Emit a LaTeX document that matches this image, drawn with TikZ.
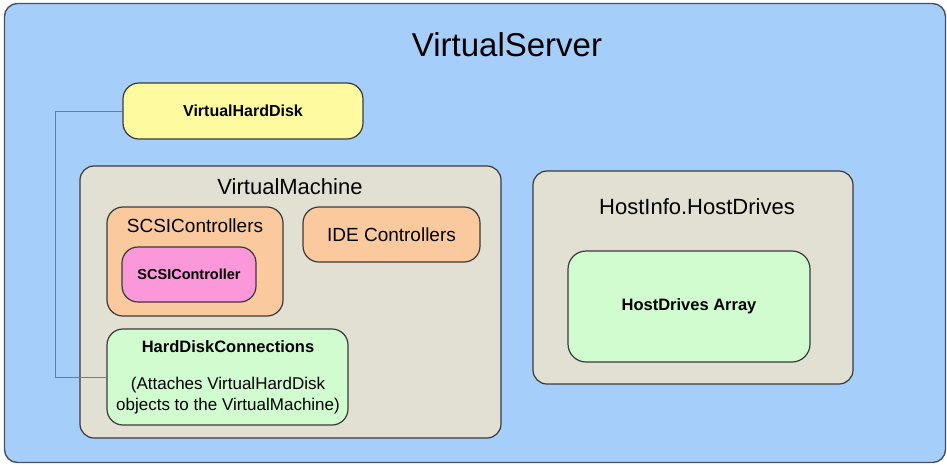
\documentclass[tikz,border=0pt]{standalone}
\usepackage{fontspec}
\setmainfont{Liberation Sans}
\definecolor{serverblue}{HTML}{A6CEFA}
\definecolor{panelgray}{HTML}{E1E0D2}
\definecolor{diskyellow}{HTML}{FDFAA0}
\definecolor{ctrlorange}{HTML}{FACA9E}
\definecolor{ctrlpink}{HTML}{FA98DA}
\definecolor{connGreen}{HTML}{D0FCD0}
\definecolor{edge}{HTML}{3A3A3A}
\definecolor{frameedge}{HTML}{465264}
\definecolor{wire}{HTML}{6A7E96}
\tikzset{
  box/.style={draw=edge, line width=1.2pt, rounded corners=#1, inner sep=0pt},
  box/.default=14pt,
  ttl/.style={inner sep=0pt, font=\fontsize{22}{26}\selectfont},
  sub/.style={inner sep=0pt, font=\fontsize{19}{22}\selectfont},
  bld/.style={inner sep=0pt, font=\bfseries\fontsize{16.5}{20}\selectfont},
  txt/.style={inner sep=0pt, align=center, font=\fontsize{17}{21}\selectfont},
}
\begin{document}
\begin{tikzpicture}[x=1pt, y=-1pt]
\useasboundingbox (0,0) rectangle (947,464);
% outer server frame
\node[box=13pt, fill=serverblue, draw=frameedge, line width=1.4pt, minimum width=941pt, minimum height=459pt] (server) at (475,233) {};
\node[inner sep=0pt, font=\fontsize{33}{38}\selectfont] (servertitle) at (507,45) {VirtualServer};
% virtual hard disk
\node[box=16pt, fill=diskyellow, minimum width=240pt, minimum height=56pt, font=\bfseries\fontsize{16}{20}\selectfont] (vhd) at (243,111) {VirtualHardDisk};
% virtual machine
\node[box, fill=panelgray, minimum width=421pt, minimum height=272pt] (vm) at (290.5,302) {};
\node[ttl] (vmtitle) at (290,187) {VirtualMachine};
\node[box=16pt, fill=ctrlorange, minimum width=176pt, minimum height=109pt] (scsis) at (195,261.5) {};
\node[sub] (scsistitle) at (195,226) {SCSIControllers};
\node[box=16pt, fill=ctrlpink, minimum width=134pt, minimum height=55pt, font=\bfseries\fontsize{14.5}{18}\selectfont] (scsi) at (189,274.5) {SCSIController};
\node[box=16pt, fill=ctrlorange, minimum width=177pt, minimum height=55pt, font=\fontsize{19}{22}\selectfont] (ide) at (391.5,234.5) {IDE Controllers};
\node[box=16pt, fill=connGreen, minimum width=241pt, minimum height=96pt] (hdc) at (227.5,377) {};
\node[bld] (hdctitle) at (228,347) {HardDiskConnections};
\node[txt] (hdctext) at (228,396) {(Attaches VirtualHardDisk\\objects to the VirtualMachine)};
% host drives
\node[box, fill=panelgray, minimum width=320pt, minimum height=213pt] (host) at (693,277.5) {};
\node[ttl] (hosttitle) at (697,207) {HostInfo.HostDrives};
\node[box=18pt, fill=connGreen, minimum width=242pt, minimum height=111pt, font=\bfseries\fontsize{16.5}{20}\selectfont] (hda) at (689,306.5) {HostDrives Array};
% connector from the disk to its connections
\draw[wire, line width=0.9pt] (vhd.west) -- ++(-67,0) |- (hdc.west);
\end{tikzpicture}
\end{document}
